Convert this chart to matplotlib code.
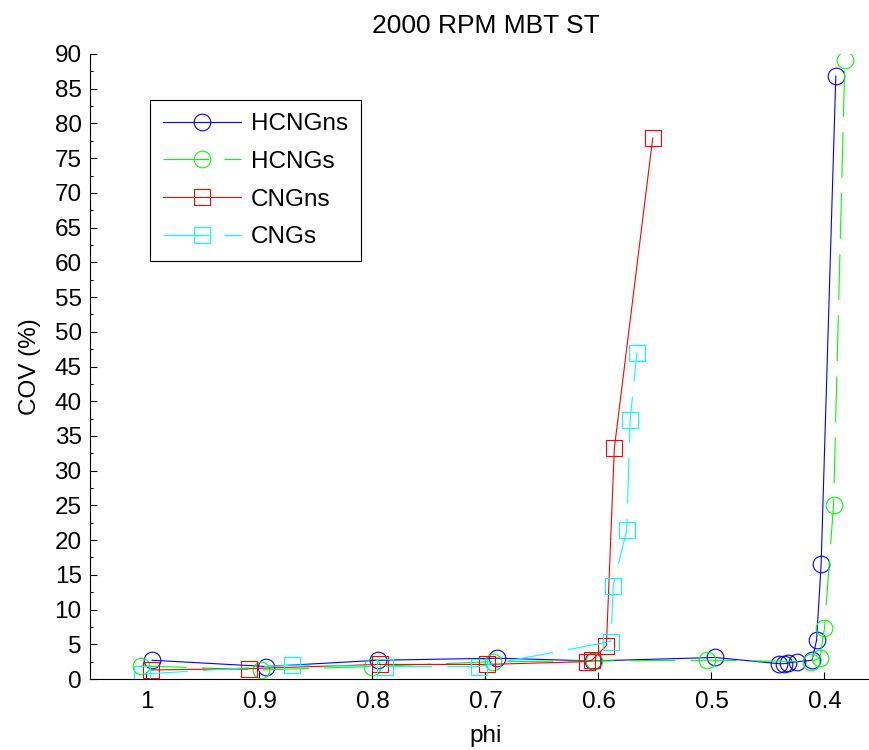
import numpy as np
import matplotlib
matplotlib.use("Agg")
import matplotlib.pyplot as plt
from matplotlib.ticker import MultipleLocator

# data ------------------------------------------------------------
phi_hcng_ns = [0.995, 0.894, 0.795, 0.690, 0.605, 0.497, 0.440, 0.436, 0.432,
               0.424, 0.411, 0.407, 0.403, 0.390]
cov_hcng_ns = [2.7, 1.8, 2.7, 3.0, 2.6, 3.1, 2.2, 2.2, 2.3, 2.5, 2.7, 5.6, 16.5, 86.8]

phi_hcng_s = [1.005, 0.899, 0.800, 0.693, 0.604, 0.504, 0.412, 0.404, 0.400, 0.392, 0.382]
cov_hcng_s = [1.9, 1.3, 1.8, 2.5, 2.6, 2.7, 2.5, 3.0, 7.3, 25.1, 89.1]

phi_cng_ns = [0.996, 0.909, 0.793, 0.699, 0.610, 0.606, 0.593, 0.586, 0.552]
cov_cng_ns = [1.3, 1.5, 2.1, 2.1, 2.5, 2.7, 4.8, 33.2, 77.9]

phi_cng_s = [1.004, 0.871, 0.789, 0.706, 0.589, 0.587, 0.575, 0.572, 0.566]
cov_cng_s = [0.7, 2.0, 1.8, 1.8, 5.4, 13.4, 21.5, 37.3, 47.0]

labels = ['HCNGns', 'HCNGs', 'CNGns', 'CNGs']
xticks = [1, 0.9, 0.8, 0.7, 0.6, 0.5, 0.4]
xticklabels = ['1', '0.9', '0.8', '0.7', '0.6', '0.5', '0.4']
# ----------------------------------------------------------------

plt.rcParams['font.family'] = ['Liberation Sans', 'DejaVu Sans']
plt.rcParams['font.size'] = 17.5
plt.rcParams['lines.scale_dashes'] = False

fig = plt.figure(figsize=(8.7, 7.5), dpi=100)
ax = fig.add_axes([90/870, 71/750, 791/870, 625/750])

dash = (0, (33, 11))
common = dict(lw=0.8, markersize=12, markerfacecolor='none', markeredgewidth=0.8)
ax.plot(phi_hcng_ns, cov_hcng_ns, color='#0000ff', marker='o', ls='-',
        markeredgecolor='#0000ff', label=labels[0], **common)
ax.plot(phi_hcng_s, cov_hcng_s, color='#00ff00', marker='o', ls=dash,
        markeredgecolor='#00ff00', label=labels[1], **common)
ax.plot(phi_cng_ns, cov_cng_ns, color='#ff0000', marker='s', ls='-',
        markeredgecolor='#ff0000', label=labels[2], **common)
ax.plot(phi_cng_s, cov_cng_s, color='#00ffff', marker='s', ls=dash,
        markeredgecolor='#00ffff', label=labels[3], **common)

ax.set_xlim(1.05, 0.35)
ax.set_ylim(0, 90)
ax.set_xticks(xticks)
ax.set_xticklabels(xticklabels)
ax.yaxis.set_major_locator(MultipleLocator(5))
ax.yaxis.set_minor_locator(MultipleLocator(2.5))
ax.tick_params(direction='in', length=5, width=0.8, pad=6)
ax.tick_params(axis='y', which='minor', direction='in', length=2.5, width=0.8)
ax.tick_params(axis='x', pad=9)

for side in ['top', 'right']:
    ax.spines[side].set_visible(False)
for side in ['left', 'bottom']:
    ax.spines[side].set_linewidth(0.8)

ax.set_xlabel('phi', labelpad=8)
ax.set_ylabel('COV (%)', labelpad=10)
ax.set_title('2000 RPM MBT ST', pad=15, fontsize=19)

leg = ax.legend(loc='upper left', bbox_to_anchor=(150/870, 1 - 100/750),
                bbox_transform=fig.transFigure, borderaxespad=0,
                fancybox=False, framealpha=1,
                edgecolor='black', handlelength=3.2, handletextpad=0.4,
                labelspacing=0.64, borderpad=0.55, numpoints=1)
leg.get_frame().set_linewidth(0.8)

fig.savefig('out.png', dpi=100)
